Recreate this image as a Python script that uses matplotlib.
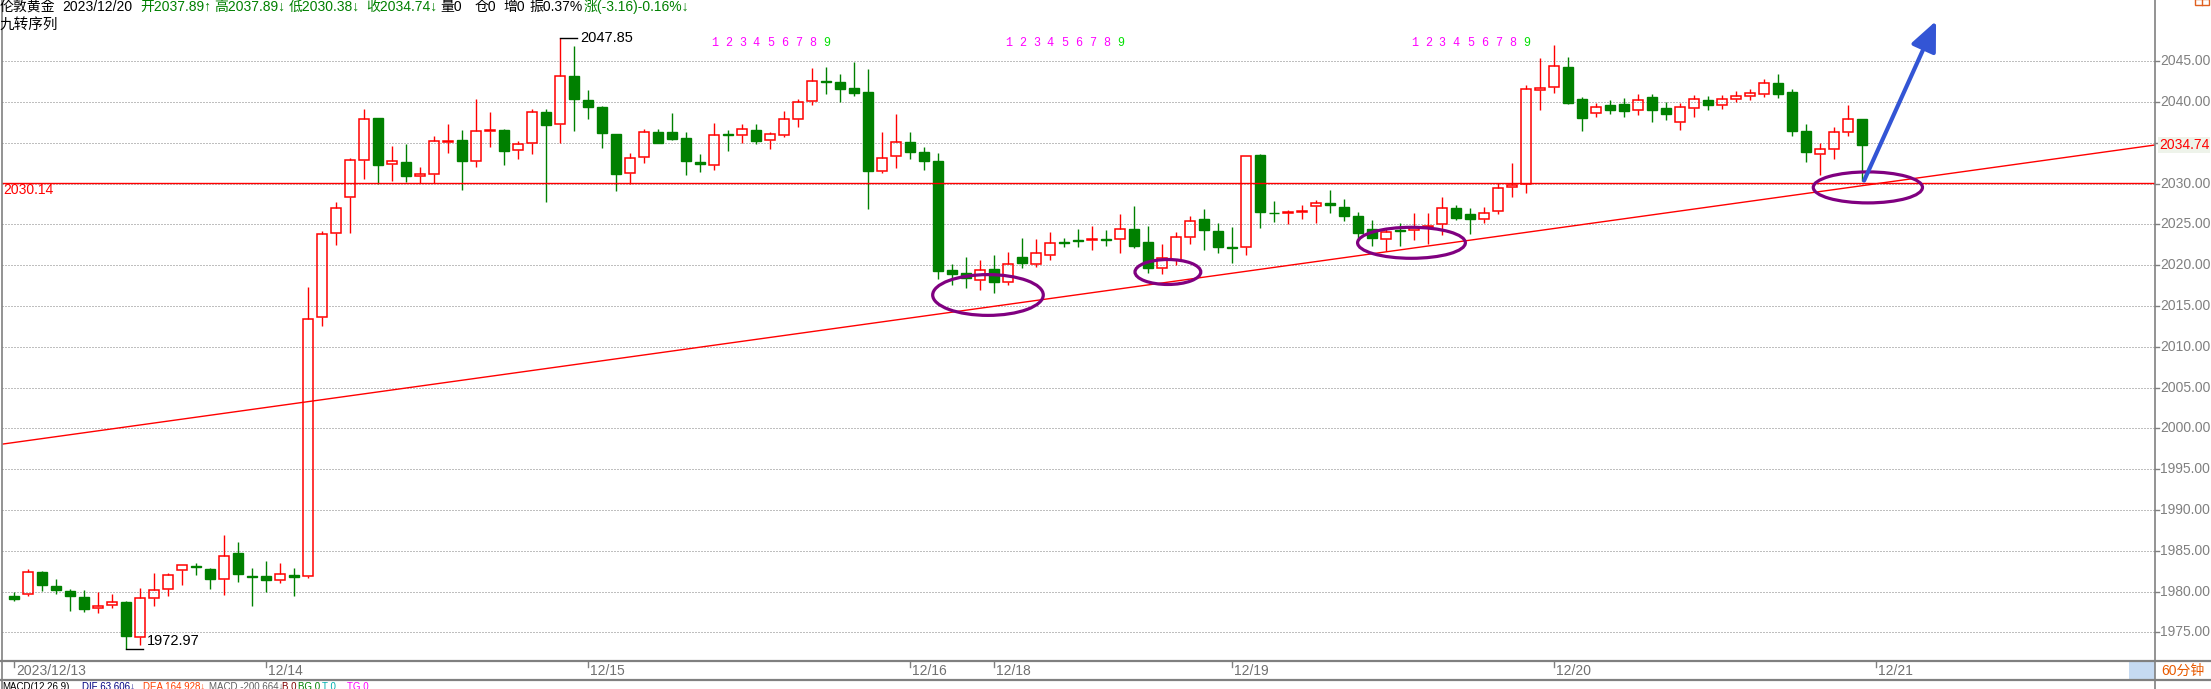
import matplotlib
matplotlib.use('Agg')
import matplotlib.pyplot as plt
from matplotlib.patches import Rectangle, Ellipse
import matplotlib.transforms as mtransforms

W, H = 2211, 689
FONT = ['Liberation Sans', 'Noto Sans CJK SC', 'DejaVu Sans']
plt.rcParams['font.family'] = FONT

# ---------------- data (60-minute candles, London gold) ----------------
opens = [1979.49, 1979.65, 1982.43, 1980.72, 1980.10, 1979.37, 1977.98, 1978.34, 1978.75, 1974.46,
         1979.16, 1980.31, 1982.64, 1983.13, 1982.80, 1981.53, 1984.68, 1981.90, 1981.94, 1981.41,
         1982.07, 1981.86, 2013.62, 2023.90, 2028.31, 2032.85, 2038.05, 2032.36, 2032.61, 2030.97,
         2031.13, 2035.10, 2035.35, 2032.81, 2036.49, 2036.57, 2034.08, 2035.02, 2038.74, 2037.27,
         2043.20, 2040.26, 2039.40, 2036.08, 2031.26, 2033.22, 2036.33, 2036.33, 2035.59, 2032.65,
         2032.24, 2036.04, 2035.92, 2036.57, 2035.31, 2036.00, 2037.88, 2040.09, 2042.59, 2042.46,
         2041.73, 2041.24, 2031.50, 2033.34, 2035.10, 2033.83, 2032.77, 2019.40, 2019.00, 2018.20,
         2019.50, 2018.00, 2021.00, 2020.20, 2021.30, 2022.79, 2023.08, 2023.10, 2023.18, 2023.16,
         2024.39, 2022.83, 2019.60, 2020.60, 2023.49, 2025.65, 2024.18, 2022.25, 2022.26, 2033.51,
         2026.43, 2026.45, 2026.47, 2027.21, 2027.62, 2027.13, 2026.02, 2024.43, 2023.20, 2024.26,
         2024.26, 2024.71, 2025.00, 2026.96, 2026.23, 2025.61, 2026.60, 2029.54, 2029.95, 2041.44,
         2041.81, 2044.26, 2040.40, 2038.70, 2039.60, 2039.80, 2039.00, 2040.60, 2039.30, 2037.60,
         2039.30, 2040.30, 2039.70, 2040.40, 2040.80, 2041.00, 2042.30, 2041.20, 2036.50, 2033.60,
         2034.30, 2036.30, 2037.89]
highs = [1979.94, 1982.80, 1982.50, 1981.57, 1980.35, 1980.22, 1979.98, 1979.73, 1978.88, 1980.47,
         1982.31, 1982.31, 1983.30, 1983.54, 1982.85, 1986.89, 1986.11, 1982.92, 1983.78, 1983.54,
         1982.92, 2017.37, 2024.16, 2027.70, 2033.14, 2039.15, 2038.10, 2034.61, 2034.86, 2031.99,
         2035.84, 2037.31, 2036.57, 2040.38, 2038.78, 2036.74, 2035.18, 2039.15, 2039.15, 2047.85,
         2046.88, 2041.48, 2039.52, 2036.10, 2033.71, 2036.70, 2036.70, 2038.66, 2036.33, 2033.63,
         2037.39, 2036.57, 2037.27, 2037.31, 2036.33, 2038.91, 2040.38, 2044.18, 2044.30, 2043.45,
         2044.96, 2044.06, 2036.29, 2038.50, 2036.33, 2034.49, 2033.75, 2020.20, 2021.00, 2020.60,
         2021.20, 2021.60, 2023.36, 2023.20, 2024.06, 2023.32, 2024.43, 2024.79, 2024.31, 2026.28,
         2027.25, 2024.79, 2022.59, 2024.06, 2026.02, 2026.88, 2025.16, 2024.67, 2033.40, 2033.63,
         2027.86, 2026.80, 2027.33, 2027.98, 2029.21, 2028.11, 2026.51, 2025.53, 2024.51, 2025.20,
         2026.35, 2026.35, 2028.31, 2027.37, 2026.96, 2027.09, 2030.03, 2032.53, 2042.10, 2045.41,
         2047.00, 2045.53, 2040.60, 2039.90, 2040.20, 2040.50, 2041.00, 2041.00, 2040.00, 2039.90,
         2040.90, 2040.80, 2040.90, 2041.30, 2041.60, 2042.80, 2043.50, 2041.60, 2037.30, 2035.00,
         2036.90, 2039.70, 2037.89]
lows = [1978.88, 1979.41, 1980.02, 1979.73, 1977.65, 1977.44, 1977.32, 1977.93, 1972.97, 1973.39,
        1978.26, 1979.49, 1980.76, 1981.98, 1980.35, 1979.61, 1981.21, 1978.18, 1979.98, 1981.00,
        1979.49, 1981.70, 2012.59, 2022.50, 2023.90, 2030.52, 2029.91, 2030.32, 2030.19, 2030.03,
        2030.03, 2033.79, 2029.21, 2032.08, 2034.53, 2032.32, 2033.06, 2033.67, 2027.70, 2034.94,
        2036.49, 2037.97, 2034.41, 2029.13, 2029.95, 2032.53, 2034.98, 2035.35, 2031.09, 2031.46,
        2031.71, 2034.04, 2034.94, 2034.90, 2034.29, 2035.76, 2036.98, 2039.68, 2041.03, 2040.05,
        2040.79, 2026.92, 2031.26, 2031.95, 2033.06, 2031.67, 2018.30, 2017.60, 2017.20, 2017.00,
        2016.60, 2017.60, 2019.60, 2019.80, 2020.60, 2022.26, 2022.22, 2021.90, 2022.34, 2021.50,
        2022.06, 2019.00, 2018.90, 2020.00, 2022.59, 2021.85, 2021.50, 2020.30, 2021.30, 2024.59,
        2025.33, 2025.08, 2025.69, 2025.20, 2026.43, 2025.45, 2023.08, 2022.30, 2021.80, 2022.34,
        2023.08, 2022.55, 2023.65, 2025.57, 2023.81, 2025.12, 2026.23, 2028.39, 2028.89, 2039.07,
        2041.16, 2039.81, 2036.40, 2038.20, 2038.50, 2038.20, 2038.40, 2037.50, 2037.80, 2036.60,
        2038.20, 2039.00, 2039.20, 2040.00, 2040.30, 2040.60, 2040.50, 2035.80, 2032.60, 2031.00,
        2033.00, 2035.80, 2030.38]
closes = [1979.04, 1982.43, 1980.76, 1980.14, 1979.41, 1977.81, 1978.22, 1978.71, 1974.50, 1979.20,
          1980.22, 1982.02, 1983.25, 1983.01, 1981.49, 1984.36, 1982.11, 1981.82, 1981.37, 1982.19,
          1981.74, 2013.37, 2023.79, 2026.96, 2032.89, 2037.92, 2032.32, 2032.73, 2030.97, 2031.18,
          2035.18, 2035.18, 2032.81, 2036.41, 2036.57, 2034.04, 2034.86, 2038.74, 2037.23, 2043.16,
          2040.34, 2039.44, 2036.25, 2031.22, 2033.10, 2036.29, 2034.98, 2035.51, 2032.81, 2032.36,
          2035.92, 2035.92, 2036.66, 2035.27, 2036.04, 2037.92, 2039.97, 2042.59, 2042.51, 2041.65,
          2041.16, 2031.58, 2033.10, 2035.06, 2033.92, 2032.81, 2019.30, 2018.90, 2018.40, 2019.40,
          2017.90, 2020.20, 2020.30, 2021.50, 2022.67, 2022.70, 2023.00, 2023.16, 2023.12, 2024.39,
          2022.38, 2019.60, 2020.90, 2023.40, 2025.37, 2024.35, 2022.22, 2022.15, 2033.34, 2026.55,
          2026.35, 2026.55, 2026.68, 2027.58, 2027.33, 2026.06, 2023.98, 2023.36, 2024.02, 2024.22,
          2024.71, 2024.84, 2026.96, 2025.82, 2025.69, 2026.35, 2029.42, 2029.83, 2041.56, 2041.69,
          2044.39, 2039.93, 2038.00, 2039.40, 2039.00, 2038.90, 2040.30, 2039.00, 2038.60, 2039.40,
          2040.40, 2039.60, 2040.40, 2040.80, 2041.10, 2042.30, 2041.00, 2036.50, 2033.90, 2034.20,
          2036.30, 2037.90, 2034.74]

date_ticks = [0, 18, 41, 64, 70, 87, 110, 133]
date_labels = ['2023/12/13', '12/14', '12/15', '12/16', '12/18', '12/19', '12/20', '12/21']
price_ticks = [1975, 1980, 1985, 1990, 1995, 2000, 2005, 2010, 2015, 2020, 2025, 2030, 2035, 2040, 2045]
last_price = 2034.74
support_level = 2030.14
trend_start = (-0.807, 1998.08)
trend_end = (152.91, 2034.74)
td_starts = [50, 71, 100]
td_labels = ['1', '2', '3', '4', '5', '6', '7', '8', '9']
max_idx, max_val = 39, 2047.85
min_idx, min_val = 8, 1972.97
circles = [(69.55, 2016.35, 7.9, 5.0), (82.4, 2019.17, 4.7, 3.06),
           (99.8, 2022.75, 7.7, 3.8), (132.4, 2029.54, 7.8, 3.8)]
arrow_from = (132.13, 2030.38)
arrow_to = (137.27, 2049.94)

header = [('伦敦黄金', 0, 'black'), ('2023/12/20', 62, 'black'),
          ('开2037.89↑', 140, '#008000'), ('高2037.89↓', 214, '#008000'),
          ('低2030.38↓', 289, '#008000'), ('收2034.74↓', 366, '#008000'),
          ('量0', 440, 'black'), ('仓0', 475, 'black'), ('增0', 503, 'black'),
          ('振0.37%', 529, 'black'), ('涨(-3.16)-0.16%↓', 584, '#008000')]
macd_row = [('MACD(12,26,9)', 2, 'black'), ('DIF 63.606↓', 82, '#000080'),
            ('DEA 164.928↓', 143, '#FF4000'), ('MACD -200.664↓', 209, '#606060'),
            ('B 0', 282, '#800000'), ('BG 0', 298, '#008000'), ('T 0', 322, '#00B0B0'),
            ('TG 0', 347, '#FF00FF')]

# ---------------- figure ----------------
fig = plt.figure(figsize=(W / 100, H / 100), dpi=100, facecolor='white')
ax = fig.add_axes([2 / W, (H - 661) / H, 2153 / W, 661 / H])
ax.set_facecolor('none')
ax.set_xlim(-0.879, 152.91)
ax.set_ylim(1971.48, 2052.515)
ax.axis('off')

ov = fig.add_axes([0, 0, 1, 1])
ov.set_xlim(0, W)
ov.set_ylim(H, 0)
ov.axis('off')
ov.patch.set_alpha(0)
ov.set_zorder(5)

GRAY = '#808080'
# grid
for p in price_ticks:
    ax.axhline(p, color=GRAY, lw=0.72, linestyle=(0, (1, 2)), zorder=1)

# candles
bw = 0.72
for i, (o, h, l, c) in enumerate(zip(opens, highs, lows, closes)):
    up = c >= o
    col = '#FF0000' if up else '#008000'
    top, bot = max(o, c), min(o, c)
    ax.plot([i, i], [top, h], color=col, lw=1.0, zorder=3, solid_capstyle='butt')
    ax.plot([i, i], [l, bot], color=col, lw=1.0, zorder=3, solid_capstyle='butt')
    if up:
        ax.add_patch(Rectangle((i - bw / 2, bot), bw, top - bot, facecolor='none',
                               edgecolor=col, lw=1.1, zorder=3))
    else:
        ax.add_patch(Rectangle((i - bw / 2, bot), bw, top - bot, facecolor=col,
                               edgecolor=col, lw=1.0, zorder=3))

# support line and trend line
ax.axhline(support_level, color='#FF0000', lw=1.0, zorder=4)
ax.plot([trend_start[0], trend_end[0]], [trend_start[1], trend_end[1]], color='#FF0000',
        lw=1.0, zorder=4)
ax.text(-0.8, support_level - 0.9, '%.2f' % support_level, color='#FF0000', fontsize=10,
        ha='left', va='center', zorder=6)

# TD sequence numbers
for s in td_starts:
    for k, lab in enumerate(td_labels):
        ax.text(s + k, 2047.2, lab, color='#00E000' if lab == '9' else '#FF00FF',
                fontsize=8.5, family=['Liberation Mono', 'DejaVu Sans Mono'],
                ha='center', va='center', zorder=6)

# max / min markers
ax.plot([max_idx, max_idx + 1.17], [max_val, max_val], color='black', lw=1.0, zorder=5)
ax.text(max_idx + 1.42, max_val, '%.2f' % max_val, fontsize=10.5, color='black',
        ha='left', va='center', zorder=6)
ax.plot([min_idx, min_idx + 1.2], [min_val, min_val], color='black', lw=1.0, zorder=5)
ax.text(min_idx + 1.45, min_val + 1.0, '%.2f' % min_val, fontsize=10.5, color='black',
        ha='left', va='center', zorder=6)

# purple circles
for cx, cy, w, h in circles:
    ax.add_patch(Ellipse((cx, cy), w, h, facecolor='none', edgecolor='#800080', lw=2.3, zorder=7))

# blue arrow
ax.annotate('', xy=arrow_to, xytext=arrow_from,
            arrowprops=dict(arrowstyle='-|>,head_length=0.9,head_width=0.4', color='#3355D5',
                            lw=3.0, shrinkA=0, shrinkB=0, mutation_scale=20), zorder=8)

# ---------------- frame / axes decorations (pixel overlay) ----------------
ov.plot([1.5, 1.5], [0, H], color=GRAY, lw=1.2)
ov.plot([2155, 2155], [0, H], color=GRAY, lw=1.2)
ov.plot([0, W], [661, 661], color=GRAY, lw=1.6)
ov.plot([0, W], [680, 680], color=GRAY, lw=1.6)

# right price labels
ty = mtransforms.blended_transform_factory(ov.transData, ax.transData)
for p in price_ticks:
    ov.plot([2155, 2159], [p, p], color=GRAY, lw=1.0, transform=ty)
    if p == 2035:
        continue
    ov.text(2160, p, '%.2f' % p, transform=ty, color=GRAY, fontsize=10, ha='left', va='center')
ov.text(2159, last_price, '%.2f' % last_price, transform=ty, color='#FF0000', fontsize=10,
        ha='left', va='center',
        bbox=dict(boxstyle='square,pad=0.08', facecolor='#EEF3EA', edgecolor='none'))

# date ticks
tx = mtransforms.blended_transform_factory(ax.transData, ov.transData)
for d, lab in zip(date_ticks, date_labels):
    ov.plot([d, d], [661, 667], color=GRAY, lw=1.0, transform=tx)
    ov.text(d + 0.12, 671, lab, transform=tx, color='#707070', fontsize=10, ha='left', va='center')

# period box
ov.add_patch(Rectangle((2129, 662), 26, 18, facecolor='#C5DAF2', edgecolor='none'))
ov.text(2161, 671, '60分钟', color='#E85A00', fontsize=10, ha='left', va='center')
ov.add_patch(Rectangle((2195, -1), 14, 6, facecolor='none', edgecolor='#E06020', lw=1.0))
ov.plot([2202, 2202], [0, 5], color='#E06020', lw=1.0)

# header
for s, x, col in header:
    ov.text(x, 7, s, color=col, fontsize=10, ha='left', va='center')
ov.text(0, 25, '九转序列', color='black', fontsize=10.5, ha='left', va='center')
for s, x, col in macd_row:
    ov.text(x, 682, s, color=col, fontsize=7, ha='left', va='top')

fig.savefig('out.png', dpi=100, facecolor='white')
